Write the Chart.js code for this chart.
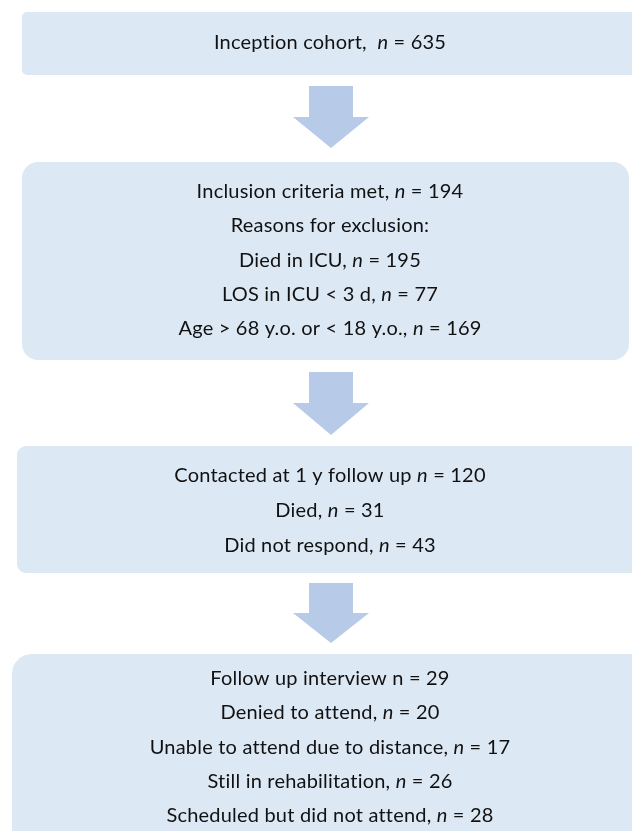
<!DOCTYPE html>
<html>
<head>
<meta charset="utf-8">
<script src="https://cdn.jsdelivr.net/npm/chart.js@4"></script>
<style>
  html, body { margin: 0; padding: 0; background: #ffffff; }
  #flow { display: block; }
</style>
</head>
<body>
<canvas id="flow" width="632" height="831"></canvas>
<script>
// Flow data: text of each box line and its n (null = no count)
const cohortLines = ['Inception cohort, '];
const cohortN = [635];

const inclusionLines = ['Inclusion criteria met,', 'Reasons for exclusion:', 'Died in ICU,', 'LOS in ICU < 3 d,', 'Age > 68 y.o. or < 18 y.o.,'];
const inclusionN = [194, null, 195, 77, 169];

const contactLines = ['Contacted at 1 y follow up', 'Died,', 'Did not respond,'];
const contactN = [120, 31, 43];

const interviewLines = ['Follow up interview', 'Denied to attend,', 'Unable to attend due to distance,', 'Still in rehabilitation,', 'Scheduled but did not attend,'];
const interviewN = [29, 20, 17, 26, 28];

// Layout in page units (x: 0-632, y: 0-831 top down)
const boxes = [
    { lines: cohortLines, n: cohortN, x0: 22, x1: 650, y0: 12, y1: 75, r: 5, base: 49, step: 35 },
    { lines: inclusionLines, n: inclusionN, x0: 22, x1: 629, y0: 162, y1: 360, r: 16, base: 198, step: 34.3 },
    { lines: contactLines, n: contactN, x0: 17, x1: 650, y0: 446, y1: 573, r: 9, base: 482, step: 35 },
    { lines: interviewLines, n: interviewN, x0: 12, x1: 650, y0: 654, y1: 860, r: 20, base: 685, step: 34.3, plainFirst: true }
];
const arrows = [
    { y0: 86, ys: 117, y1: 148 },
    { y0: 372, ys: 403, y1: 435 },
    { y0: 583, ys: 613, y1: 643 }
];
const arrowX = 331, shaftHalf = 22, headHalf = 38;
const textX = 330;

const boxFill = '#dde8f5';
const arrowFill = '#b7cae7';
const textColor = '#111111';
const fontSize = 20;
const fontFamily = 'Lato, "Open Sans", sans-serif';

const flowPlugin = {
    id: 'flow',
    afterDraw(chart) {
        const ctx = chart.ctx;
        const xs = chart.scales.x, ys = chart.scales.y;
        const px = v => xs.getPixelForValue(v);
        const py = v => ys.getPixelForValue(v);
        ctx.save();

        // boxes
        boxes.forEach(b => {
            ctx.beginPath();
            ctx.roundRect(px(b.x0), py(b.y0), px(b.x1) - px(b.x0), py(b.y1) - py(b.y0), b.r);
            ctx.fillStyle = boxFill;
            ctx.fill();
        });

        // block arrows
        arrows.forEach(a => {
            ctx.beginPath();
            ctx.moveTo(px(arrowX - shaftHalf), py(a.y0));
            ctx.lineTo(px(arrowX + shaftHalf), py(a.y0));
            ctx.lineTo(px(arrowX + shaftHalf), py(a.ys));
            ctx.lineTo(px(arrowX + headHalf), py(a.ys));
            ctx.lineTo(px(arrowX), py(a.y1));
            ctx.lineTo(px(arrowX - headHalf), py(a.ys));
            ctx.lineTo(px(arrowX - shaftHalf), py(a.ys));
            ctx.closePath();
            ctx.fillStyle = arrowFill;
            ctx.fill();
        });

        // text
        const regular = fontSize + 'px ' + fontFamily;
        const italic = 'italic ' + fontSize + 'px ' + fontFamily;
        ctx.fillStyle = textColor;
        ctx.textBaseline = 'alphabetic';
        ctx.textAlign = 'left';
        ctx.letterSpacing = '0.2px';
        boxes.forEach(b => {
            b.lines.forEach((label, i) => {
                const parts = [[label, regular]];
                if (b.n[i] !== null) {
                    const nFont = (b.plainFirst && i === 0) ? regular : italic;
                    parts.push([' ', regular], ['n', nFont], [' = ' + b.n[i], regular]);
                }
                let w = 0;
                parts.forEach(p => { ctx.font = p[1]; w += ctx.measureText(p[0]).width; });
                let x = px(textX) - w / 2;
                const y = py(b.base + i * b.step);
                parts.forEach(p => {
                    ctx.font = p[1];
                    ctx.fillText(p[0], x, y);
                    x += ctx.measureText(p[0]).width;
                });
            });
        });
        ctx.restore();
    }
};

window.onload = function() {
    const ctx = document.getElementById('flow').getContext('2d');
    new Chart(ctx, {
        type: 'scatter',
        data: { datasets: [] },
        options: {
            responsive: false,
            animation: false,
            layout: { padding: 0 },
            plugins: { legend: { display: false }, tooltip: { enabled: false } },
            scales: {
                x: { type: 'linear', min: 0, max: 632, display: false },
                y: { type: 'linear', min: 0, max: 831, reverse: true, display: false }
            }
        },
        plugins: [flowPlugin]
    });
};
</script>
</body>
</html>
